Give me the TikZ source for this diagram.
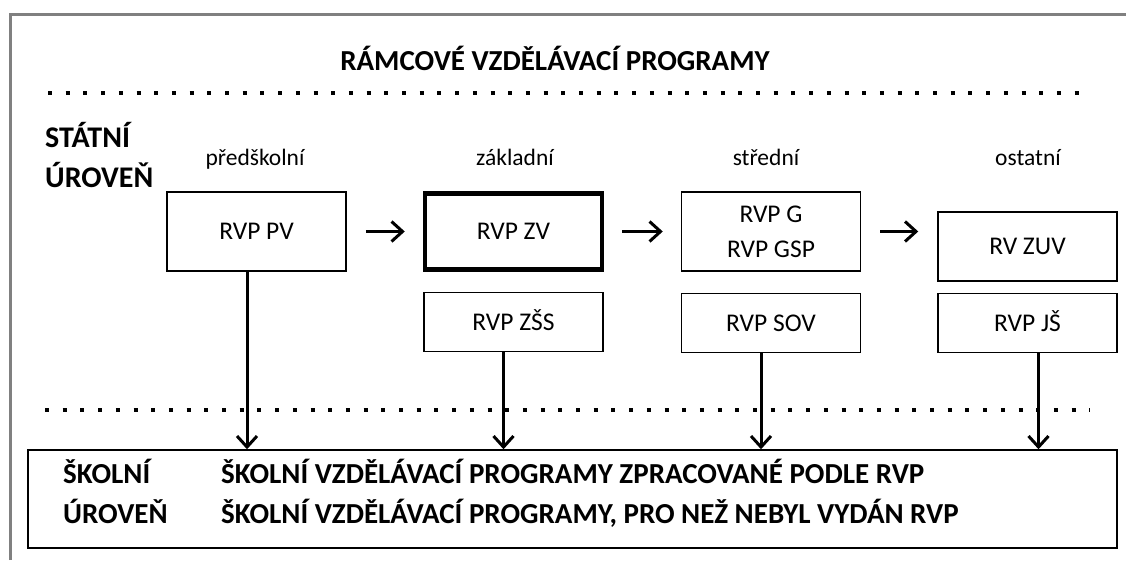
\documentclass[tikz,border=0pt]{standalone}
\usepackage{fontspec}
\setmainfont{Carlito}
\usetikzlibrary{positioning,arrows.meta}

\tikzset{
  rvp/.style={draw, line width=1.5pt, minimum width=179pt, minimum height=79pt,
    inner sep=0pt, align=center, text height=16.5pt, text depth=0pt,
    font=\fontsize{25.5}{35}\selectfont},
  rvpsmall/.style={rvp, minimum height=59pt},
  levellabel/.style={font=\fontsize{23.5}{28}\selectfont, anchor=base},
  boldtext/.style={font=\fontsize{29}{34}\selectfont\bfseries, anchor=base west, inner sep=0pt},
  flow/.style={-{Straight Barb[length=11pt,width=20pt]}, line width=3pt},
  dotline/.style={line width=4pt, dash pattern=on 4pt off 13.7pt}
}

\begin{document}
\begin{tikzpicture}[x=1pt,y=-1pt]
  \useasboundingbox (0,0) rectangle (1126,560);
  % outer frame
  \draw[gray, line width=3pt] (10,560) -- (10,14) -- (1126,14);

  % heading and levels
  \node[font=\fontsize{29}{34}\selectfont\bfseries, anchor=base] (title) at (555,70) {RÁMCOVÉ VZDĚLÁVACÍ PROGRAMY};
  \draw[dotline] (48,93) -- (1090,93);
  \node[boldtext, font=\fontsize{30}{34}\selectfont\bfseries] (statni1) at (45,147) {STÁTNÍ};
  \node[boldtext, font=\fontsize{30}{34}\selectfont\bfseries] (statni2) at (45,187) {ÚROVEŇ};

  \node[levellabel] (lpv) at (255,165) {předškolní};
  \node[levellabel] (lzv) at (515,165) {základní};
  \node[levellabel] (lsv) at (766,165) {střední};
  \node[levellabel] (los) at (1028,165) {ostatní};

  % boxes of the state level
  \node[rvp] (pv) at (256.5,231.5) {RVP PV};
  \node[rvp, line width=4.5pt, minimum width=177pt, minimum height=76pt] (zv) at (513.5,231.5) {RVP ZV};
  \node[rvp, text height={}, text depth={}] (g) at (771,231.5) {RVP G\\RVP GSP};
  \node[rvp, minimum height=69pt] (zuv) at (1027.5,246.5) {RV ZUV};
  \node[rvpsmall, below=20pt of zv] (zss) {RVP ZŠS};
  \node[rvpsmall, below=21pt of g] (sov) {RVP SOV};
  \node[rvpsmall, below=11pt of zuv] (js) {RVP JŠ};

  % school level
  \draw[dotline] (45,410) -- (1090,410);
  \node[draw, line width=1.5pt, minimum width=1089pt, minimum height=98pt, inner sep=0pt] (skola) at (572.5,499) {};
  \node[boldtext] (skolni1) at (63,483) {ŠKOLNÍ};
  \node[boldtext] (skolni2) at (63,523) {ÚROVEŇ};
  \node[boldtext] (svp1) at (221,483) {ŠKOLNÍ VZDĚLÁVACÍ PROGRAMY ZPRACOVANÉ PODLE RVP};
  \node[boldtext] (svp2) at (221,523) {ŠKOLNÍ VZDĚLÁVACÍ PROGRAMY, PRO NEŽ NEBYL VYDÁN RVP};

  % connect the nodes
  \draw[flow, shorten <=19pt, shorten >=18pt] (pv) -- (zv);
  \draw[flow, shorten <=18pt, shorten >=18pt] (zv) -- (g);
  \draw[flow, shorten <=19pt, shorten >=19pt] (g.east) -- (g.east -| zuv.west);
  \draw[flow] ([xshift=-9.5pt]pv.south) -- ([xshift=-9.5pt]pv.south |- skola.north);
  \draw[flow] ([xshift=-10pt]zss.south) -- ([xshift=-10pt]zss.south |- skola.north);
  \draw[flow] ([xshift=-10pt]sov.south) -- ([xshift=-10pt]sov.south |- skola.north);
  \draw[flow] ([xshift=11pt]js.south) -- ([xshift=11pt]js.south |- skola.north);
\end{tikzpicture}
\end{document}
